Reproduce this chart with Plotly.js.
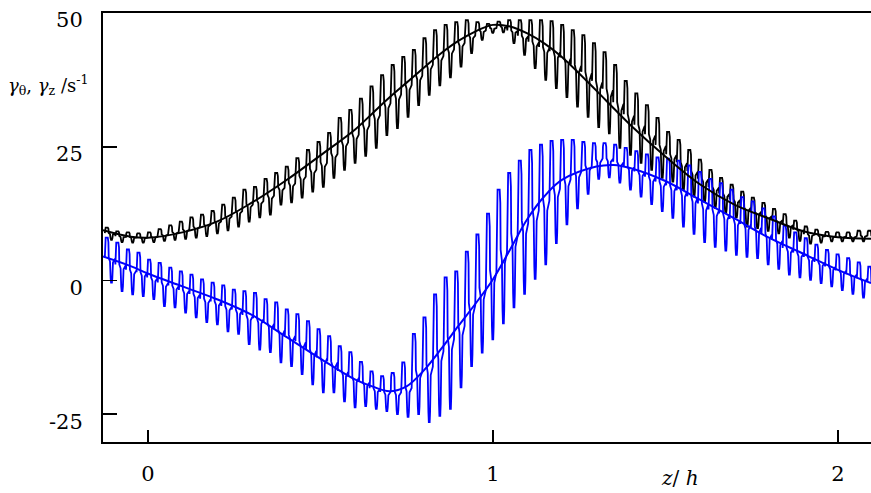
<!DOCTYPE html>
<html>
<head>
<meta charset="utf-8">
<script src="https://cdn.plot.ly/plotly-3.0.1.min.js"></script>
<style>html,body{margin:0;padding:0;background:#fff;}#chart{width:871px;height:493px;}</style>
</head>
<body>
<div id="chart"></div>
<script>
// ---- Data ----
// Smooth (mean) profiles
const zSmooth = [-0.13, -0.05, 0, 0.1, 0.2, 0.3, 0.4, 0.5, 0.6, 0.65, 0.7, 0.75, 0.8, 0.85, 0.9, 0.95, 1.0, 1.05, 1.1, 1.15, 1.2, 1.3, 1.35, 1.4, 1.5, 1.6, 1.7, 1.8, 1.9, 2.0, 2.096];
const gammaThetaSmooth = [9.4, 8.2, 8.0, 9.0, 11.0, 14.5, 18.7, 23.4, 28.2, 31.2, 34.2, 37.0, 39.8, 42.5, 44.8, 46.6, 47.8, 47.5, 46.2, 44.3, 41.8, 35.5, 32.2, 29.0, 23.2, 18.0, 14.2, 11.6, 9.2, 8.1, 7.8];
const gammaZSmooth = [4.5, 2.7, 1.3, -1.1, -3.5, -6.4, -10.5, -14.6, -18.5, -19.8, -20.7, -19.8, -16.8, -12.8, -8.5, -4.3, 0.2, 5.8, 11.5, 15.8, 18.8, 21.3, 21.6, 21.0, 18.6, 15.1, 11.6, 8.0, 5.0, 2.0, -0.5];

// Oscillating (instantaneous) profiles: one peak / trough per cycle
const zCycleStart = -0.118;   // z of the first cycle peak
const zCycleStep = 0.0307;    // cycle length in z/h
const thetaPeak = [9.9, 9.2, 9.0, 8.8, 9.0, 9.6, 10.3, 11.0, 11.8, 12.3, 13.0, 14.2, 15.5, 17.0, 17.5, 19.0, 20.1, 21.3, 22.9, 24.4, 25.9, 27.6, 30.4, 31.9, 34.0, 36.3, 38.4, 40.3, 41.8, 43.1, 45.3, 46.8, 47.8, 48.3, 48.7, 48.3, 48.0, 48.4, 48.7, 48.7, 48.7, 48.7, 48.5, 47.8, 46.8, 45.9, 44.4, 42.7, 40.3, 37.3, 35.0, 32.8, 30.4, 27.8, 26.3, 24.4, 22.6, 20.7, 19.2, 17.9, 16.6, 15.5, 14.5, 13.4, 12.4, 11.2, 10.1, 9.5, 9.1, 9.0, 9.0, 9.3, 9.3];
const thetaTrough = [7.6, 7.2, 7.1, 7.1, 7.2, 7.4, 7.6, 7.8, 8.0, 8.3, 8.8, 9.4, 10.1, 11.0, 11.8, 12.3, 14.2, 14.6, 15.5, 16.6, 17.5, 19.2, 20.7, 22.0, 23.3, 24.8, 27.2, 28.5, 30.6, 32.8, 34.7, 36.5, 38.0, 40.0, 42.5, 45.0, 46.3, 46.4, 44.4, 42.2, 39.7, 37.5, 36.0, 34.3, 32.5, 30.6, 28.7, 27.5, 24.8, 23.5, 22.0, 20.7, 19.2, 18.5, 17.0, 15.7, 14.7, 13.6, 12.7, 11.8, 10.1, 9.8, 9.3, 8.8, 8.0, 7.4, 6.9, 7.1, 7.3, 7.3, 7.3, 7.3, 7.3];
const zPeak = [8.0, 7.1, 5.8, 5.2, 3.9, 3.3, 2.4, 1.7, 1.1, 0.2, -0.4, -0.9, -1.7, -2.0, -2.3, -3.5, -4.1, -5.4, -6.3, -7.6, -9.1, -10.4, -12.3, -13.4, -15.2, -17.0, -17.9, -17.3, -15.3, -10.0, -6.9, -2.6, 0.6, 1.7, 5.4, 8.6, 12.5, 17.0, 20.1, 22.4, 24.4, 25.4, 26.1, 26.3, 26.3, 25.9, 25.7, 25.7, 25.4, 24.8, 24.2, 23.6, 23.0, 22.8, 22.4, 21.5, 20.3, 19.0, 18.2, 17.0, 15.6, 14.8, 13.5, 12.0, 10.2, 9.0, 7.9, 6.7, 5.7, 4.9, 4.2, 3.4, 2.6];
const zTrough = [-0.4, -2.0, -2.6, -2.9, -3.5, -4.8, -5.0, -6.0, -6.9, -7.8, -8.2, -9.5, -10.0, -11.9, -12.9, -13.4, -15.3, -16.0, -17.5, -19.4, -20.9, -20.9, -22.6, -23.7, -23.5, -24.0, -24.4, -25.0, -25.5, -25.0, -26.5, -25.3, -24.0, -20.0, -16.0, -13.5, -11.0, -8.0, -5.0, -2.5, 0.3, 3.0, 7.0, 10.5, 13.5, 16.2, 19.0, 19.3, 18.3, 17.0, 15.7, 14.3, 13.0, 11.7, 10.1, 8.7, 7.2, 6.3, 5.6, 4.8, 4.4, 4.2, 3.0, 2.2, 1.1, 0.6, 0.1, -0.5, -1.1, -1.8, -2.5, -3.2, -3.6];

const yTicks = [-25, 0, 25, 50];
const xTicks = [0, 1, 2];

// ---- Build the stepped oscillation traces from the per-cycle peaks/troughs ----
// waveform style inside one cycle: [fraction of cycle, level between trough(0) and peak(1)]
const shape = [[-0.22,0.55],[-0.19,0.9],[-0.14,1.0],[0.06,1.0],[0.12,0.9],[0.15,0.55],[0.27,0.47],[0.33,0.1],[0.37,0.0],[0.45,0.0],[0.49,0.1],[0.55,0.45],[0.75,0.53]];
function buildOsc(peaks, troughs) {
  const xs = [], ys = [];
  for (let i = 0; i < peaks.length; i++) {
    const c = zCycleStart + i * zCycleStep;
    for (const [f, lv] of shape) {
      xs.push(c + f * zCycleStep);
      ys.push(troughs[i] + lv * (peaks[i] - troughs[i]));
    }
  }
  return {xs, ys};
}
const oscTheta = buildOsc(thetaPeak, thetaTrough);
const oscZ = buildOsc(zPeak, zTrough);

const traces = [
  {x: oscTheta.xs, y: oscTheta.ys, type: 'scatter', mode: 'lines', line: {color: '#000000', width: 1.8}, hoverinfo: 'skip'},
  {x: oscZ.xs, y: oscZ.ys, type: 'scatter', mode: 'lines', line: {color: '#0000ff', width: 1.8}, hoverinfo: 'skip'},
  {x: zSmooth, y: gammaThetaSmooth, type: 'scatter', mode: 'lines', line: {color: '#000000', width: 2, shape: 'spline', smoothing: 1}},
  {x: zSmooth, y: gammaZSmooth, type: 'scatter', mode: 'lines', line: {color: '#0000ff', width: 2, shape: 'spline', smoothing: 1}}
];

const serif = 'DejaVu Serif';
const font = {family: serif, size: 21, color: '#000'};

const layout = {
  width: 871, height: 493,
  margin: {l: 103, r: 0, t: 13, b: 51, pad: 0},
  paper_bgcolor: '#fff', plot_bgcolor: '#fff',
  showlegend: false,
  font: font,
  xaxis: {
    range: [-0.13, 2.096], tickvals: xTicks, ticktext: xTicks.map(String),
    ticks: 'inside', ticklen: 12, tickwidth: 1.5, tickcolor: '#000',
    showline: true, linecolor: '#000', linewidth: 2, mirror: true,
    showgrid: false, zeroline: false, ticklabelstandoff: 12,
    tickfont: font
  },
  yaxis: {
    range: [-30.2, 50.02], tickvals: yTicks, ticktext: yTicks.map(String),
    ticks: 'inside', ticklen: 14, tickwidth: 1.5, tickcolor: '#000',
    showline: true, linecolor: '#000', linewidth: 2, mirror: false,
    showgrid: false, zeroline: false, ticklabelstandoff: 14, ticklabelshift: 7,
    tickfont: font
  },
  annotations: [
    {xref: 'paper', yref: 'y', x: -0.126, y: 36.6, xanchor: 'left', yanchor: 'middle', showarrow: false,
     text: '<i>γ</i><sub>θ</sub>, <i>γ</i><sub>z</sub> /s<sup>-1</sup>', font: {family: serif, size: 18, color: '#000'}},
    {xref: 'paper', yref: 'paper', x: 0.751, y: -0.083, xanchor: 'center', yanchor: 'middle', showarrow: false,
     text: '<i>z</i>/ <i>h</i>', font: {family: serif, size: 20, color: '#000'}}
  ]
};

Plotly.newPlot('chart', traces, layout, {displayModeBar: false, staticPlot: true});
</script>
</body>
</html>
